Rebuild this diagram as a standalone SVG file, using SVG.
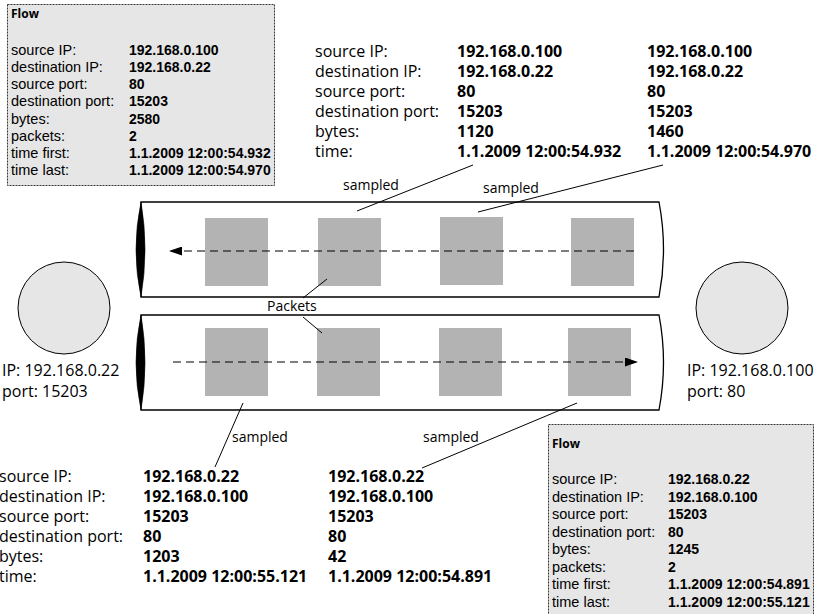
<svg xmlns="http://www.w3.org/2000/svg" width="818" height="614" viewBox="0 0 818 614">
<style>
  text { font-family: "Open Sans", "Liberation Sans", sans-serif; fill: #000; }
  .lbl { font-size: 16px; }
  .val { font-size: 16px; font-weight: bold; }
  .blbl { font-family: "Liberation Sans", Arial, sans-serif; font-size: 14.5px; }
  .bval { font-family: "Liberation Sans", Arial, sans-serif; font-size: 14px; font-weight: bold; }
  .title { font-size: 12px; font-weight: bold; }
  .small { font-size: 14px; }
  .box { fill: #e6e6e6; stroke: #333; stroke-width: 1; stroke-dasharray: 2 1; }
  .pipe { fill: #fff; stroke: #000; stroke-width: 1.3; }
  .lens { fill: #000; stroke: #000; stroke-width: 0.6; }
  .pkt { fill: #b3b3b3; }
  .host { fill: #e6e6e6; stroke: #000; stroke-width: 1; }
  .ln { stroke: #000; stroke-width: 1; fill: none; }
  .flow { stroke: #000; stroke-width: 1.2; stroke-dasharray: 8 5; fill: none; }
</style>
<defs>
  <marker id="arrow" markerWidth="13" markerHeight="9" refX="12" refY="4.5" orient="auto" markerUnits="userSpaceOnUse">
    <path d="M0,0 L13,4.5 L0,9 Z" fill="#000"/>
  </marker>
</defs>

<g id="flow-box-top">
  <rect class="box" x="7.5" y="4.5" width="267" height="181"/>
  <text class="title" x="11" y="18">Flow</text>
  <text class="blbl" x="11" y="55">source IP:</text>
  <text class="blbl" x="11" y="72">destination IP:</text>
  <text class="blbl" x="11" y="89">source port:</text>
  <text class="blbl" x="11" y="106">destination port:</text>
  <text class="blbl" x="11" y="124">bytes:</text>
  <text class="blbl" x="11" y="141">packets:</text>
  <text class="blbl" x="11" y="158">time first:</text>
  <text class="blbl" x="11" y="175">time last:</text>
  <text class="bval" x="129" y="55">192.168.0.100</text>
  <text class="bval" x="129" y="72">192.168.0.22</text>
  <text class="bval" x="129" y="89">80</text>
  <text class="bval" x="129" y="106">15203</text>
  <text class="bval" x="129" y="124">2580</text>
  <text class="bval" x="129" y="141">2</text>
  <text class="bval" x="129" y="158">1.1.2009 12:00:54.932</text>
  <text class="bval" x="129" y="175">1.1.2009 12:00:54.970</text>
</g>

<g id="samples-top">
  <text class="lbl" x="315" y="57">source IP:</text>
  <text class="lbl" x="315" y="77">destination IP:</text>
  <text class="lbl" x="315" y="97">source port:</text>
  <text class="lbl" x="315" y="117">destination port:</text>
  <text class="lbl" x="315" y="137">bytes:</text>
  <text class="lbl" x="315" y="157">time:</text>
  <text class="val" x="457" y="57">192.168.0.100</text>
  <text class="val" x="457" y="77">192.168.0.22</text>
  <text class="val" x="457" y="97">80</text>
  <text class="val" x="457" y="117">15203</text>
  <text class="val" x="457" y="137">1120</text>
  <text class="val" x="457" y="157">1.1.2009 12:00:54.932</text>
  <text class="val" x="647" y="57">192.168.0.100</text>
  <text class="val" x="647" y="77">192.168.0.22</text>
  <text class="val" x="647" y="97">80</text>
  <text class="val" x="647" y="117">15203</text>
  <text class="val" x="647" y="137">1460</text>
  <text class="val" x="647" y="157">1.1.2009 12:00:54.970</text>
  <text class="small" x="343" y="190">sampled</text>
  <text class="small" x="483" y="193">sampled</text>
</g>

<g id="pipe-top">
  <path class="pipe" d="M141,202 L659,202 Q668,249.5 659,297 L141,297 Z"/>
  <path class="lens" d="M141,202 Q131,249.5 141,297 Q149,249.5 141,202 Z"/>
  <rect class="pkt" x="205" y="218" width="63" height="68"/>
  <rect class="pkt" x="318" y="218" width="63" height="68"/>
  <rect class="pkt" x="440" y="217" width="63" height="68"/>
  <rect class="pkt" x="571" y="218" width="63" height="68"/>
</g>

<g id="pipe-bottom">
  <path class="pipe" d="M141,315 L659,315 Q668,362.5 659,410 L141,410 Z"/>
  <path class="lens" d="M141,315 Q131,362.5 141,410 Q149,362.5 141,315 Z"/>
  <rect class="pkt" x="205" y="328" width="63" height="68"/>
  <rect class="pkt" x="317" y="328" width="63" height="68"/>
  <rect class="pkt" x="439" y="328" width="63" height="68"/>
  <rect class="pkt" x="568" y="328" width="63" height="68"/>
</g>

<g id="packets-label">
  <text class="small" x="267" y="311">Packets</text>
</g>

<g id="host-left">
  <circle class="host" cx="64" cy="308" r="46"/>
  <text class="lbl" x="2" y="376">IP: 192.168.0.22</text>
  <text class="lbl" x="2" y="397">port: 15203</text>
</g>

<g id="host-right">
  <circle class="host" cx="742" cy="308" r="46"/>
  <text class="lbl" x="687" y="376">IP: 192.168.0.100</text>
  <text class="lbl" x="687" y="397">port: 80</text>
</g>

<g id="samples-bottom">
  <text class="small" x="232" y="442">sampled</text>
  <text class="small" x="423" y="442">sampled</text>
  <text class="lbl" x="-1" y="482">source IP:</text>
  <text class="lbl" x="-1" y="502">destination IP:</text>
  <text class="lbl" x="-1" y="522">source port:</text>
  <text class="lbl" x="-1" y="542">destination port:</text>
  <text class="lbl" x="-1" y="562">bytes:</text>
  <text class="lbl" x="-1" y="582">time:</text>
  <text class="val" x="143" y="482">192.168.0.22</text>
  <text class="val" x="143" y="502">192.168.0.100</text>
  <text class="val" x="143" y="522">15203</text>
  <text class="val" x="143" y="542">80</text>
  <text class="val" x="143" y="562">1203</text>
  <text class="val" x="143" y="582">1.1.2009 12:00:55.121</text>
  <text class="val" x="328" y="482">192.168.0.22</text>
  <text class="val" x="328" y="502">192.168.0.100</text>
  <text class="val" x="328" y="522">15203</text>
  <text class="val" x="328" y="542">80</text>
  <text class="val" x="328" y="562">42</text>
  <text class="val" x="328" y="582">1.1.2009 12:00:54.891</text>
</g>

<g id="flow-box-bottom">
  <rect class="box" x="548.5" y="424.5" width="265" height="200"/>
  <text class="title" x="552" y="448">Flow</text>
  <text class="blbl" x="552" y="484">source IP:</text>
  <text class="blbl" x="552" y="501.5">destination IP:</text>
  <text class="blbl" x="552" y="519">source port:</text>
  <text class="blbl" x="552" y="536.5">destination port:</text>
  <text class="blbl" x="552" y="554">bytes:</text>
  <text class="blbl" x="552" y="571.5">packets:</text>
  <text class="blbl" x="552" y="589">time first:</text>
  <text class="blbl" x="552" y="606.5">time last:</text>
  <text class="bval" x="668" y="484">192.168.0.22</text>
  <text class="bval" x="668" y="501.5">192.168.0.100</text>
  <text class="bval" x="668" y="519">15203</text>
  <text class="bval" x="668" y="536.5">80</text>
  <text class="bval" x="668" y="554">1245</text>
  <text class="bval" x="668" y="571.5">2</text>
  <text class="bval" x="668" y="589">1.1.2009 12:00:54.891</text>
  <text class="bval" x="668" y="606.5">1.1.2009 12:00:55.121</text>
</g>

<g id="connectors">
  <line class="flow" x1="634" y1="251" x2="170" y2="251" marker-end="url(#arrow)"/>
  <line class="flow" x1="173" y1="362" x2="637" y2="362" marker-end="url(#arrow)"/>
  <line class="ln" x1="473" y1="165" x2="357" y2="211"/>
  <line class="ln" x1="663" y1="165" x2="478" y2="212"/>
  <line class="ln" x1="327" y1="279" x2="303" y2="298"/>
  <line class="ln" x1="303" y1="317" x2="322" y2="333"/>
  <line class="ln" x1="243" y1="403" x2="215" y2="467"/>
  <line class="ln" x1="577" y1="403" x2="422" y2="468"/>
</g>
</svg>
